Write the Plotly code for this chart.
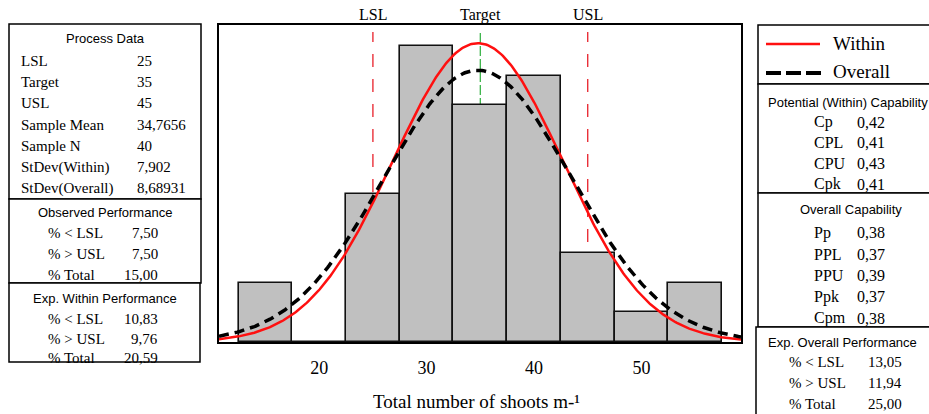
import numpy as np
import plotly.graph_objects as go

# ---------------- data ----------------
bin_centers = [15, 20, 25, 30, 35, 40, 45, 50, 55]
bin_counts = [2, 0, 5, 10, 8, 9, 3, 1, 2]
bin_width = 5
LSL, TARGET, USL = 25, 35, 45
sample_mean = 34.7656
sample_n = 40
stdev_within = 7.902
stdev_overall = 8.68931
x_ticks = [20, 30, 40, 50]

process_labels = ["LSL", "Target", "USL", "Sample Mean", "Sample N", "StDev(Within)", "StDev(Overall)"]
process_values = ["25", "35", "45", "34,7656", "40", "7,902", "8,68931"]
perf_labels = ["% < LSL", "% > USL", "% Total"]
observed_values = ["7,50", "7,50", "15,00"]
exp_within_values = ["10,83", "9,76", "20,59"]
potential_labels = ["Cp", "CPL", "CPU", "Cpk"]
potential_values = ["0,42", "0,41", "0,43", "0,41"]
overall_labels = ["Pp", "PPL", "PPU", "Ppk", "Cpm"]
overall_values = ["0,38", "0,37", "0,39", "0,37", "0,38"]
exp_overall_values = ["13,05", "11,94", "25,00"]

# ---------------- layout geometry ----------------
W, H = 929, 414
L, R, T, B = 219, 741, 25, 342
X_RANGE = [10.67, 59.27]
Y_RANGE = [0, 10.71]
SERIF = "Liberation Serif, Times New Roman, serif"
SANS = "Liberation Sans, Arial, sans-serif"


def PX(x):
    return (x - L) / (R - L)


def PY(y):
    return (B - y) / (B - T)


# normal fit curves scaled to counts
xs = np.linspace(X_RANGE[0], X_RANGE[1], 400)


def fit(sd):
    return sample_n * bin_width * np.exp(-0.5 * ((xs - sample_mean) / sd) ** 2) / (sd * np.sqrt(2 * np.pi))


fig = go.Figure()
fig.add_trace(go.Bar(x=bin_centers, y=bin_counts, width=bin_width,
                     marker=dict(color="#C0C0C0", line=dict(color="#111111", width=1.6)),
                     showlegend=False, hoverinfo="skip"))
fig.add_trace(go.Scatter(x=xs, y=fit(stdev_within), mode="lines",
                         line=dict(color="#FF1010", width=2.5), showlegend=False))
fig.add_trace(go.Scatter(x=xs, y=fit(stdev_overall), mode="lines",
                         line=dict(color="black", width=3.5, dash="10px,6px"), showlegend=False))

shapes = []
annotations = []

# spec lines
for v, col, dash in [(LSL, "#E8202A", "13px,12px"), (USL, "#E8202A", "13px,12px"), (TARGET, "#3CB44B", "10px,3px")]:
    shapes.append(dict(type="line", xref="x", yref="paper", x0=v, x1=v, y0=0, y1=PY(32),
                       line=dict(color=col, width=1.3, dash=dash), layer="below"))
for v, t in [(LSL, "LSL"), (TARGET, "Target"), (USL, "USL")]:
    annotations.append(dict(xref="x", yref="paper", x=v, y=PY(15), text=t, showarrow=False,
                            xanchor="center", yanchor="middle", font=dict(family=SERIF, size=16, color="black")))


def box(x0, y0, x1, y1):
    shapes.append(dict(type="rect", xref="paper", yref="paper", x0=PX(x0), x1=PX(x1),
                       y0=PY(y1), y1=PY(y0), fillcolor="white",
                       line=dict(color="black", width=1.5), layer="above"))


def text(x, y, s, anchor="left", font=SERIF, size=15):
    annotations.append(dict(xref="paper", yref="paper", x=PX(x), y=PY(y), text=s, showarrow=False,
                            xanchor=anchor, yanchor="middle", font=dict(family=font, size=size, color="black")))


# left panels
box(9, 24, 201, 199)
box(9, 199, 201, 283)
box(9, 283, 200, 362)
text(105, 39, "Process Data", "center", SANS, 13)
for i, (lab, val) in enumerate(zip(process_labels, process_values)):
    y = 61 + i * 21.2
    text(19, y, lab)
    text(135, y, val)
text(105, 212, "Observed Performance", "center", SANS, 13)
for i, (lab, val) in enumerate(zip(perf_labels, observed_values)):
    y = 233 + i * 20.8
    text(46, y, lab)
    text(160, y, val, "right")
text(105, 298, "Exp. Within Performance", "center", SANS, 13)
for i, (lab, val) in enumerate(zip(perf_labels, exp_within_values)):
    y = 319 + i * 19.5
    text(46, y, lab)
    text(160, y, val, "right")

# right panels
box(758, 25, 945, 84)
box(758, 84, 945, 193)
box(758, 193, 945, 327)
box(756, 327, 945, 425)
shapes.append(dict(type="line", xref="paper", yref="paper", x0=PX(766), x1=PX(820), y0=PY(44), y1=PY(44),
                   line=dict(color="#FF1010", width=2.5), layer="above"))
shapes.append(dict(type="line", xref="paper", yref="paper", x0=PX(766), x1=PX(822), y0=PY(73), y1=PY(73),
                   line=dict(color="black", width=4, dash="15px,5px"), layer="above"))
text(831, 44, "Within", "left", SERIF, 19)
text(831, 72, "Overall", "left", SERIF, 19)
text(848, 102, "Potential (Within) Capability", "center", SANS, 13)
for i, (lab, val) in enumerate(zip(potential_labels, potential_values)):
    y = 122 + i * 20.8
    text(812, y, lab, size=16)
    text(855, y, val, size=16)
text(851, 210, "Overall Capability", "center", SANS, 13)
for i, (lab, val) in enumerate(zip(overall_labels, overall_values)):
    y = 233 + i * 21.3
    text(812, y, lab, size=16)
    text(855, y, val, size=16)
text(842, 342, "Exp. Overall Performance", "center", SANS, 13)
for i, (lab, val) in enumerate(zip(perf_labels, exp_overall_values)):
    y = 362 + i * 21
    text(787, y, lab)
    text(866, y, val)

# axis title
text((L + R) / 2 - 4, 401, "Total number of shoots m-¹", "center", SERIF, 19)

fig.update_layout(
    width=W, height=H,
    margin=dict(l=L, r=W - R, t=T, b=H - B, pad=0),
    paper_bgcolor="white", plot_bgcolor="white",
    showlegend=False, bargap=0,
    shapes=shapes, annotations=annotations,
    xaxis=dict(range=X_RANGE, tickvals=x_ticks, ticktext=[str(t) for t in x_ticks],
               ticks="", ticklabelstandoff=9, showgrid=False, zeroline=False,
               showline=True, mirror=True, linecolor="black", linewidth=1.5,
               tickfont=dict(family=SERIF, size=18, color="black")),
    yaxis=dict(range=Y_RANGE, showticklabels=False, ticks="", showgrid=False, zeroline=False,
               showline=True, mirror=True, linecolor="black", linewidth=1.5),
)

fig.write_html("out.html")
